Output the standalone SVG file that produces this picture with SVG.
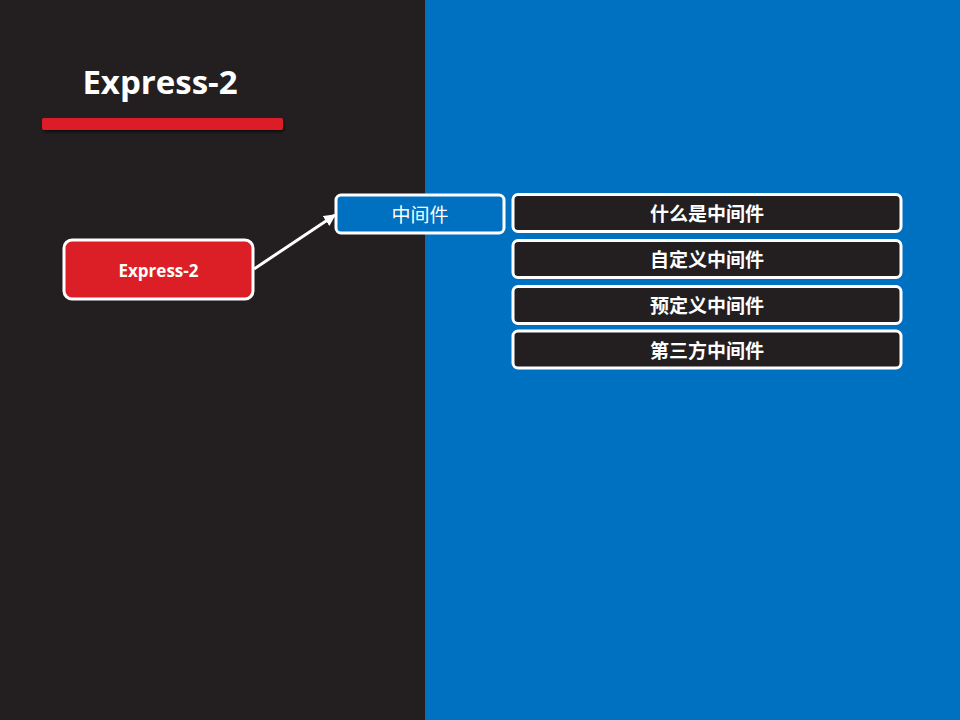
<svg xmlns="http://www.w3.org/2000/svg" width="960" height="720" viewBox="0 0 960 720">
<style>
.t{font-family:"Noto Sans CJK SC","Liberation Sans",sans-serif;fill:#fff;text-anchor:middle;dominant-baseline:central}
.b{font-weight:bold}
.item rect{fill:#231F20;stroke:#fff;stroke-width:3}
.item text{font-size:19px}
</style>
<defs>
<marker id="ah" viewBox="0 0 10 10" refX="9" refY="5" markerWidth="4" markerHeight="4" orient="auto">
<path d="M0,0 L10,5 L0,10 z" fill="#fff"/>
</marker>
<filter id="sh" x="-10%" y="-50%" width="120%" height="250%">
<feDropShadow dx="1" dy="2" stdDeviation="1.5" flood-color="#000" flood-opacity="0.6"/>
</filter>
</defs>
<rect x="0" y="0" width="425" height="720" fill="#231F20"/>
<rect x="425" y="0" width="535" height="720" fill="#0070C0"/>
<text x="160" y="81" class="t b" style="font-family:'Open Sans','Liberation Sans',sans-serif;font-size:33px">Express-2</text>
<rect x="42" y="118" width="241" height="12" rx="2" fill="#DC1E26" filter="url(#sh)"/>
<g id="connectors">
<line x1="254" y1="269" x2="335" y2="215" stroke="#fff" stroke-width="3" marker-end="url(#ah)"/>
</g>
<g id="root">
<rect x="64" y="240" width="189" height="59" rx="8" fill="#DC1E26" stroke="#fff" stroke-width="3"/>
<text x="158.5" y="270" class="t b" style="font-family:'Open Sans','Liberation Sans',sans-serif;font-size:17px">Express-2</text>
</g>
<g id="mid">
<rect x="336" y="195" width="168" height="38" rx="5" fill="#0070C0" stroke="#fff" stroke-width="3"/>
<text x="420" y="213.5" class="t" style="font-size:19px">中间件</text>
</g>
<g id="n1" class="item">
<rect x="513" y="194.5" width="388" height="37" rx="5"/>
<text x="707" y="212.5" class="t b">什么是中间件</text>
</g>
<g id="n2" class="item">
<rect x="513" y="240.5" width="388" height="37" rx="5"/>
<text x="707" y="258.5" class="t b">自定义中间件</text>
</g>
<g id="n3" class="item">
<rect x="513" y="286.5" width="388" height="37" rx="5"/>
<text x="707" y="304.5" class="t b">预定义中间件</text>
</g>
<g id="n4" class="item">
<rect x="513" y="331" width="388" height="37" rx="5"/>
<text x="707" y="349" class="t b">第三方中间件</text>
</g>
</svg>
